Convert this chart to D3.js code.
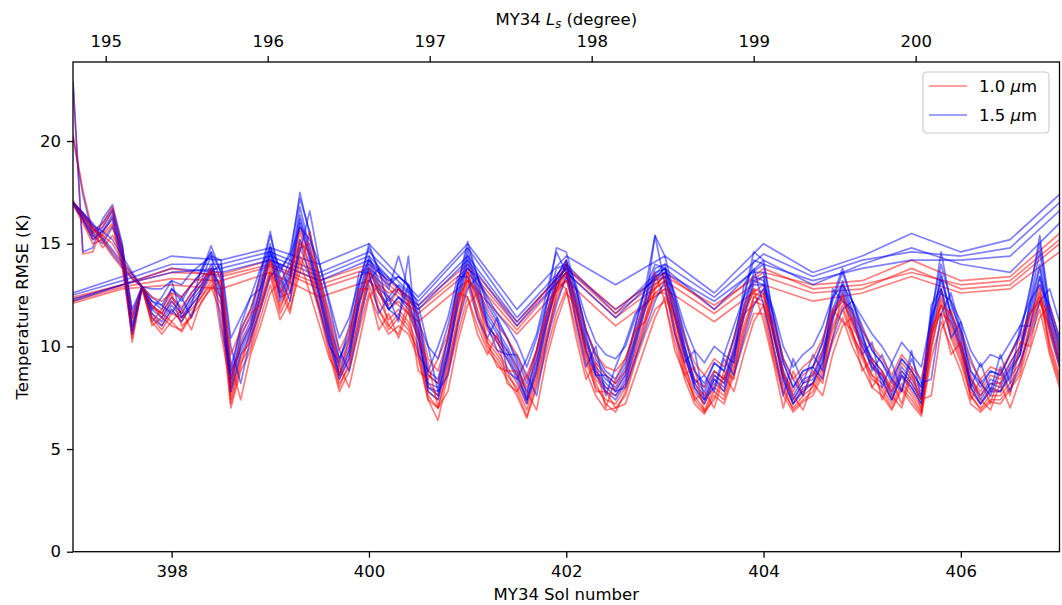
<!DOCTYPE html>
<html>
<head>
<meta charset="utf-8">
<script src="https://cdn.jsdelivr.net/npm/d3@7"></script>
<style>
  body { margin: 0; background: #fff; }
  svg { font-family: "DejaVu Sans", sans-serif; }
</style>
</head>
<body>
<div class="container"></div>
<script>
// sampling times (sol) for the detailed profiles and the coarse ones
const solFine = [
  397.0,397.1,397.2,397.3,397.4,397.5,397.6,397.7,397.8,397.9,
  398.0,398.1,398.2,398.3,398.4,398.5,398.6,398.7,398.8,398.9,
  399.0,399.1,399.2,399.3,399.4,399.5,399.6,399.7,399.8,399.9,
  400.0,400.1,400.2,400.3,400.4,400.5,400.6,400.7,400.8,400.9,
  401.0,401.1,401.2,401.3,401.4,401.5,401.6,401.7,401.8,401.9,
  402.0,402.1,402.2,402.3,402.4,402.5,402.6,402.7,402.8,402.9,
  403.0,403.1,403.2,403.3,403.4,403.5,403.6,403.7,403.8,403.9,
  404.0,404.1,404.2,404.3,404.4,404.5,404.6,404.7,404.8,404.9,
  405.0,405.1,405.2,405.3,405.4,405.5,405.6,405.7,405.8,405.9,
  406.0,406.1,406.2,406.3,406.4,406.5,406.6,406.7,406.8,406.9,
  407.0
];
const solCoarse = [397.0,397.5,398.0,398.5,399.0,399.5,400.0,400.5,401.0,401.5,402.0,
                   402.5,403.0,403.5,404.0,404.5,405.0,405.5,406.0,406.5,407.0];

// 1.0 um runs, RMSE (K)
const red1 = [
  17.0,16.2,15.3,15.5,16.3,14.2,10.8,12.9,11.6,11.0,
  11.8,11.2,12.0,12.6,13.4,12.3,7.6,9.4,10.4,12.2,
  13.8,12.0,13.0,15.2,14.0,12.2,10.2,8.4,9.4,11.6,
  13.4,12.2,11.3,11.8,11.2,10.0,7.8,7.4,9.2,11.4,
  13.2,11.8,10.4,9.8,9.0,8.2,7.2,8.6,10.6,12.4,
  13.6,11.6,9.6,8.4,7.8,7.6,8.2,9.8,11.4,12.6,
  13.0,11.0,9.0,7.8,7.2,8.2,7.8,9.2,11.0,12.4,
  12.2,10.0,8.2,7.2,7.9,8.2,9.2,11.0,12.0,10.6,
  9.6,8.6,8.2,7.4,8.5,7.8,7.0,10.0,12.0,10.6,
  9.4,7.8,7.2,7.9,7.8,8.5,9.2,11.0,12.6,10.2,
  8.6];
const red2 = [
  22.8,14.5,14.6,15.8,16.6,14.8,10.2,12.9,12.0,11.4,
  12.2,11.6,12.4,13.0,13.8,12.8,7.2,9.0,10.8,12.6,
  14.2,12.6,13.4,15.8,14.4,12.6,10.6,8.8,9.8,12.0,
  13.8,12.6,11.8,12.2,11.6,10.4,8.2,7.6,9.6,11.8,
  13.6,12.2,10.8,10.2,9.4,8.6,7.4,8.8,11.0,12.8,
  14.0,12.0,10.0,8.8,8.0,7.9,8.6,10.2,11.8,13.0,
  13.4,11.4,9.4,8.2,7.4,8.6,8.2,9.6,11.4,12.8,
  12.6,10.4,8.6,7.4,8.2,8.6,9.6,11.4,12.4,11.0,
  10.0,9.0,8.6,7.8,8.8,8.2,7.4,10.4,12.4,11.0,
  9.8,8.2,7.6,8.2,8.2,8.9,9.6,11.4,13.0,10.6,
  9.0];
const red3 = [
  16.9,16.0,15.0,15.2,15.9,13.8,10.6,12.8,11.2,10.6,
  11.2,10.7,11.5,12.1,12.9,11.6,7.0,8.8,9.8,11.4,
  13.0,11.3,12.2,14.4,13.4,11.6,9.6,7.8,8.8,10.8,
  12.6,11.4,10.6,11.0,10.6,9.4,7.4,6.4,8.6,10.6,
  12.4,11.0,9.8,9.2,8.4,7.6,6.5,8.0,9.8,11.6,
  12.8,10.8,8.8,7.6,6.9,7.0,7.6,9.2,10.6,11.8,
  12.2,10.2,8.4,7.2,6.7,7.6,7.2,8.6,10.2,11.6,
  11.6,9.4,7.6,6.8,7.3,7.6,8.6,10.2,11.4,10.0,
  9.0,8.0,7.6,6.9,7.9,7.2,6.6,9.4,11.2,10.0,
  8.8,7.2,6.8,7.3,7.2,7.9,8.6,10.4,11.8,9.6,
  8.0];
const red4 = [
  20.3,17.6,15.6,14.8,15.4,14.6,11.4,12.9,11.9,11.6,
  12.4,11.9,12.6,13.2,13.6,13.0,8.4,10.0,11.0,12.8,
  14.0,12.4,12.6,14.8,15.0,13.0,10.8,9.2,10.2,12.2,
  13.2,12.6,12.0,12.8,12.0,10.8,8.6,8.2,9.8,12.0,
  13.4,12.4,11.0,10.4,9.8,9.0,8.0,9.4,11.2,12.8,
  13.2,11.8,10.2,9.2,8.6,8.2,8.8,10.4,12.0,12.6,
  12.6,11.6,9.8,8.4,8.0,8.8,8.4,9.8,11.6,12.0,
  12.6,10.6,8.8,7.8,8.6,9.0,9.8,11.6,12.2,11.2,
  10.2,9.4,8.8,8.0,9.2,8.6,7.8,10.6,11.6,11.2,
  10.0,8.4,7.8,8.6,8.4,9.2,10.0,11.6,12.2,11.0,
  9.2];
const red5 = [
  17.1,16.4,15.5,16.0,16.8,14.6,11.2,12.9,11.4,10.8,
  11.6,11.4,11.8,12.4,13.2,12.0,7.8,9.6,10.2,12.0,
  13.6,11.8,13.2,15.6,13.8,12.0,10.0,8.2,9.0,11.4,
  13.0,11.8,10.8,11.4,10.8,9.8,7.6,7.0,9.0,11.2,
  13.0,11.4,10.0,9.4,8.6,8.0,6.9,8.4,10.4,12.2,
  13.4,11.2,9.2,8.0,7.4,7.2,8.0,9.6,11.2,12.4,
  12.8,10.6,8.6,7.6,6.9,8.0,7.6,9.0,10.8,12.2,
  12.0,9.6,7.8,7.0,7.6,8.0,9.0,10.8,11.8,10.4,
  9.4,8.4,8.0,7.2,8.2,7.6,6.8,9.8,12.2,10.4,
  9.2,7.6,7.0,7.6,7.6,8.2,9.0,10.8,12.4,10.0,
  8.4];
const red6 = [
  17.0,16.1,15.2,15.4,16.0,14.0,10.4,12.9,11.0,11.4,
  11.0,10.8,11.6,12.4,13.0,12.4,7.4,9.2,10.0,11.8,
  13.4,11.6,12.6,14.8,13.6,11.8,9.8,8.0,9.2,11.2,
  13.6,11.8,11.0,11.6,11.0,9.6,7.4,7.0,8.8,11.0,
  13.8,11.6,10.2,9.6,8.8,7.8,6.6,8.2,10.2,12.6,
  14.2,11.4,9.4,8.2,7.2,6.8,7.8,9.4,11.0,12.8,
  13.6,10.8,8.8,7.4,6.8,7.8,7.4,8.8,10.6,12.4,
  12.8,9.8,8.0,6.9,7.4,7.8,8.8,10.4,12.6,10.6,
  9.6,8.6,7.8,7.0,8.0,7.4,6.7,10.2,12.8,10.8,
  9.6,7.6,6.9,7.4,7.4,8.0,8.8,11.0,12.8,9.8,
  8.2];
const red7 = [
  17.0,16.4,15.8,15.1,14.4,13.8,13.3,12.9,11.2,11.8,
  12.6,11.0,11.4,12.8,13.8,10.6,8.0,10.4,11.6,12.0,
  13.6,12.8,11.6,14.2,12.6,11.0,9.4,8.6,10.4,12.8,
  12.8,10.8,11.6,10.4,11.8,8.8,8.4,9.4,10.6,12.6,
  12.4,10.6,9.6,10.6,8.2,7.8,8.6,9.8,11.6,13.2,
  12.8,10.4,8.4,9.2,7.0,8.4,9.4,10.8,11.2,13.6,
  12.2,9.8,8.6,9.0,6.8,7.4,8.8,8.4,12.0,12.8,
  11.2,9.2,7.0,8.8,7.6,8.8,8.2,11.8,11.2,10.8,
  8.8,9.4,7.4,8.4,7.2,9.0,6.8,11.0,11.6,9.6,
  10.2,7.4,8.4,7.2,8.8,7.6,10.2,10.0,12.2,10.8,
  9.4];
const red8 = [
  17.0,16.5,15.9,15.2,14.6,14.0,13.4,12.9,12.0,11.6,
  11.2,11.8,10.8,12.2,12.8,13.2,9.2,7.4,9.6,11.0,
  12.6,13.2,11.8,13.6,15.6,13.0,11.2,9.0,8.0,10.2,
  12.4,13.0,11.0,10.6,12.2,10.4,9.2,7.0,7.8,10.2,
  12.0,12.6,10.2,9.0,8.8,8.8,7.8,6.9,9.4,11.2,
  12.6,12.0,9.8,7.8,7.8,7.0,7.2,8.6,10.0,11.4,
  12.4,11.4,9.2,7.4,7.8,7.0,8.6,7.8,9.6,11.2,
  12.0,10.8,8.6,7.6,6.9,8.2,7.6,9.6,11.0,11.4,
  9.8,8.0,8.8,7.6,7.0,8.6,7.4,7.6,10.8,11.8,
  10.0,8.6,7.4,6.9,8.2,7.0,8.4,9.8,11.4,12.0,
  10.4];
const red9 = [
  17.0,16.4,15.7,15.4,15.0,14.2,13.5,12.9,12.4,12.2,
  12.6,12.4,13.0,13.4,13.6,13.6,9.6,10.8,11.8,13.2,
  14.2,13.2,13.8,15.0,14.6,13.4,11.6,9.8,10.8,12.6,
  13.6,13.0,12.6,12.8,12.4,11.4,9.4,8.8,10.4,12.4,
  13.2,12.8,11.8,11.0,10.4,9.6,8.4,9.8,11.6,12.8,
  13.6,12.4,10.8,9.6,9.0,8.8,9.4,10.8,12.2,12.8,
  13.2,12.0,10.4,9.2,8.6,9.4,9.0,10.4,11.8,12.6,
  12.4,11.2,9.4,8.4,9.0,9.4,10.4,11.8,12.4,11.6,
  10.8,10.0,9.4,8.6,9.6,9.0,8.4,10.8,12.0,11.6,
  10.6,9.2,8.4,9.0,8.8,9.6,10.4,11.6,12.4,11.4,
  9.8];

// 1.5 um runs, RMSE (K)
const blue1 = [
  17.0,16.3,15.5,15.8,16.6,14.6,11.4,12.9,12.0,11.6,
  12.4,11.8,12.6,13.2,14.4,13.2,8.4,10.2,11.2,13.0,
  15.0,12.8,13.8,16.8,14.8,12.8,10.8,9.0,10.0,12.6,
  14.4,13.2,12.4,13.0,12.6,11.0,8.2,8.0,10.0,12.6,
  14.6,13.0,11.6,10.8,10.0,9.0,7.8,9.4,11.6,13.4,
  14.2,12.4,10.4,9.0,8.4,8.0,8.8,10.6,12.4,13.8,
  14.0,12.0,10.0,8.4,7.8,8.8,8.4,10.0,12.0,13.6,
  13.6,11.0,8.8,7.6,8.4,8.6,9.8,11.8,13.0,11.6,
  10.4,9.4,8.8,7.8,9.0,8.4,7.6,11.0,13.2,11.6,
  10.2,8.4,7.6,8.4,8.2,9.2,10.0,12.0,14.0,11.2,
  9.4];
const blue2 = [
  22.9,14.6,14.8,16.2,16.9,15.0,10.8,12.9,12.2,11.8,
  12.8,12.2,13.0,13.6,14.9,13.6,8.2,10.6,11.4,13.6,
  15.6,13.0,14.2,17.5,15.4,13.2,11.0,9.4,10.4,13.0,
  15.0,13.6,12.8,14.4,12.8,11.4,8.6,8.2,10.4,13.0,
  15.1,13.4,12.0,11.2,10.4,9.2,7.6,9.8,12.0,14.8,
  14.6,12.8,10.8,9.4,8.6,8.2,9.0,11.0,12.8,15.4,
  14.4,12.4,10.4,8.8,8.0,9.2,8.8,10.4,12.4,14.6,
  14.2,11.4,9.2,8.0,8.8,9.0,10.2,12.2,13.6,12.2,
  10.8,9.8,9.2,8.2,9.4,8.8,8.0,11.4,14.6,12.0,
  10.8,8.8,8.0,8.8,8.6,9.6,10.6,12.6,15.4,11.8,
  9.8];
const blue3 = [
  20.2,17.4,15.4,15.0,15.8,14.8,11.6,12.9,11.6,11.2,
  12.0,11.4,12.2,12.8,13.8,12.6,8.8,9.8,10.8,12.4,
  14.4,12.2,13.2,16.0,14.2,12.4,10.4,8.6,9.6,12.0,
  13.8,12.6,11.8,12.4,12.0,10.6,8.0,7.8,9.6,12.0,
  14.0,12.4,11.0,10.4,9.6,8.6,7.4,9.0,11.2,13.0,
  13.6,11.8,9.8,8.6,8.0,7.6,8.4,10.2,12.0,13.2,
  13.4,11.4,9.6,8.0,7.4,8.4,8.0,9.6,11.6,13.0,
  13.0,10.6,8.4,7.2,8.0,8.2,9.4,11.4,12.6,11.2,
  10.0,9.0,8.4,7.4,8.6,8.0,7.2,10.6,12.8,11.2,
  9.8,8.0,7.2,8.0,7.8,8.8,9.6,11.6,13.4,10.8,
  9.0];
const blue4 = [
  17.0,16.4,15.6,16.0,16.7,14.8,11.8,12.9,12.2,12.0,
  12.8,12.4,13.0,13.6,14.6,13.6,9.0,10.8,11.8,13.4,
  15.4,13.6,14.6,17.2,15.6,13.4,11.4,9.4,10.6,13.0,
  14.8,13.8,13.0,13.4,13.0,11.6,8.8,8.4,10.4,13.0,
  14.8,13.4,12.2,11.4,10.4,9.4,8.2,9.8,12.0,13.8,
  14.0,12.8,10.8,9.6,8.8,8.4,9.2,11.0,12.8,14.0,
  13.8,12.4,10.6,8.8,8.2,9.2,8.8,10.4,12.4,14.2,
  14.0,11.4,9.2,8.0,8.8,9.0,10.2,12.4,13.8,12.2,
  11.0,9.8,9.2,8.4,9.4,8.8,8.0,11.6,14.0,12.2,
  10.6,8.8,8.2,8.8,8.6,9.6,10.6,12.8,15.0,11.8,
  10.0];
const blue5 = [
  16.9,16.2,15.4,15.6,16.4,14.4,11.0,12.9,11.8,11.4,
  12.2,11.6,12.4,13.0,14.0,12.8,8.0,10.0,11.0,12.8,
  14.8,12.6,13.6,16.4,14.6,12.6,10.6,8.6,9.8,12.4,
  14.2,13.0,12.2,12.8,12.2,10.8,8.0,7.6,9.8,12.4,
  14.4,12.8,11.4,10.6,9.8,8.8,7.4,9.2,11.4,13.2,
  13.8,12.2,10.2,8.8,8.2,7.8,8.6,10.4,12.2,13.6,
  13.8,11.8,9.8,8.2,7.6,8.6,8.2,9.8,11.8,13.4,
  13.2,10.8,8.6,7.4,8.2,8.4,9.6,11.6,12.8,11.4,
  10.2,9.2,8.6,7.6,8.8,8.2,7.4,10.8,13.6,11.4,
  10.0,8.2,7.4,8.2,8.0,9.0,9.8,11.8,13.8,11.0,
  9.2];
const blue6 = [
  17.0,16.2,15.2,15.6,16.2,14.2,10.6,12.9,11.4,11.0,
  11.8,11.2,12.0,12.6,13.6,12.4,7.8,9.6,10.6,12.4,
  14.6,12.4,13.4,16.2,14.4,12.4,10.2,8.4,9.4,12.2,
  14.0,12.8,11.8,12.4,11.8,10.4,7.8,7.4,9.4,12.2,
  14.2,12.6,11.2,10.2,9.4,8.4,7.2,8.8,11.0,13.0,
  14.0,12.0,9.8,8.6,7.8,7.4,8.2,10.0,11.8,13.4,
  13.6,11.6,9.6,8.0,7.2,8.4,7.8,9.4,11.4,13.2,
  13.4,10.6,8.4,7.2,7.8,8.2,9.2,11.2,13.2,11.8,
  10.6,9.2,8.4,7.4,8.6,8.0,7.2,11.2,13.4,11.6,
  10.4,8.0,7.2,7.8,7.8,8.6,9.6,12.2,14.6,11.4,
  9.6];
const blue7 = [
  17.0,16.4,15.8,15.2,14.5,13.9,13.3,12.9,11.8,12.4,
  13.2,11.4,12.0,13.8,14.6,11.0,8.6,11.0,12.4,12.8,
  14.6,13.4,12.2,15.2,13.4,11.8,10.0,9.2,11.0,13.6,
  13.6,11.6,12.4,11.2,14.4,9.6,8.8,10.0,11.4,13.4,
  13.4,11.4,10.4,11.4,8.8,8.4,9.4,10.6,12.6,14.6,
  13.6,11.2,9.0,10.0,7.6,9.0,10.2,11.6,12.0,15.4,
  13.0,10.6,9.2,9.8,7.4,8.0,9.6,9.2,13.0,13.8,
  12.0,10.0,7.6,9.4,8.2,9.6,8.8,12.8,12.2,11.8,
  9.6,10.2,8.0,9.2,7.8,9.8,7.4,12.0,12.8,10.4,
  11.2,8.0,9.2,7.8,9.6,8.2,11.0,11.0,13.4,11.6,
  10.2];
const blue8 = [
  17.0,16.5,16.0,15.3,14.7,14.1,13.5,12.9,12.4,12.0,
  11.6,12.4,11.4,12.8,13.6,14.0,10.0,8.2,10.4,11.8,
  13.4,14.0,12.6,14.6,16.6,14.0,12.0,9.8,8.8,11.0,
  13.2,13.8,11.8,11.4,13.0,11.2,10.0,7.8,8.6,11.0,
  12.8,13.4,11.0,9.8,9.6,9.6,8.6,7.6,10.2,12.0,
  13.4,12.8,10.6,8.6,8.6,7.8,8.0,9.4,10.8,12.2,
  13.2,12.2,10.0,8.2,8.6,7.8,9.4,8.6,10.4,12.0,
  12.8,11.6,9.4,8.4,7.6,9.0,8.4,10.4,11.8,12.2,
  10.6,8.8,9.6,8.4,7.8,9.4,8.2,8.4,11.6,12.6,
  10.8,9.4,8.2,7.6,9.0,7.8,9.2,10.6,12.2,12.8,
  11.2];
const blue9 = [
  17.0,16.5,15.9,15.6,15.2,14.4,13.6,12.9,12.8,12.8,
  13.2,13.0,13.6,14.0,14.4,14.2,10.4,11.4,12.4,13.8,
  14.8,13.8,14.4,15.8,15.2,14.0,12.2,10.4,11.4,13.2,
  14.2,13.6,13.2,13.4,13.0,12.0,10.0,9.4,11.0,13.0,
  13.8,13.4,12.4,11.6,11.0,10.2,9.0,10.4,12.2,13.4,
  14.2,13.0,11.4,10.2,9.6,9.4,10.0,11.4,12.8,13.4,
  13.8,12.6,11.0,9.8,9.2,10.0,9.6,11.0,12.4,13.2,
  13.0,11.8,10.0,9.0,9.6,10.0,11.0,12.4,13.0,12.2,
  11.4,10.6,10.0,9.2,10.2,9.6,9.0,11.4,12.6,12.2,
  11.2,9.8,9.0,9.6,9.4,10.2,11.0,12.2,13.0,12.0,
  10.4];

// coarse (half-sol) runs
const redCoarse1 = [12.2,12.9,13.3,13.2,13.9,12.8,13.6,11.6,13.6,10.8,13.6,11.4,13.2,11.6,13.4,12.6,12.8,13.8,12.8,13.0,15.0];
const redCoarse2 = [12.4,13.0,13.6,13.5,14.2,13.2,14.0,12.0,14.0,11.2,13.8,11.6,13.4,12.0,13.6,13.0,13.2,14.2,13.2,13.4,15.5];
const redCoarse3 = [12.1,12.8,13.0,12.8,13.6,12.4,13.2,11.2,13.2,10.6,13.2,11.0,12.8,11.2,13.0,12.2,12.6,13.4,12.6,12.8,14.6];
const redCoarse4 = [12.3,13.0,13.8,13.4,14.0,13.0,13.8,11.8,13.8,11.0,13.9,11.8,13.6,11.8,13.8,12.8,13.0,13.6,13.0,13.2,15.2];
const blueCoarse1 = [12.5,13.2,14.0,14.0,14.6,13.6,14.6,12.2,14.8,11.4,14.0,11.6,14.0,12.4,14.5,13.4,14.2,14.6,14.4,14.8,17.0];
const blueCoarse2 = [12.2,13.0,13.8,13.6,14.2,13.2,14.2,12.0,14.4,11.2,13.8,11.8,13.6,12.2,14.0,13.2,13.8,14.2,14.2,14.4,16.6];
const blueCoarse3 = [12.6,13.4,14.4,14.2,14.8,14.0,15.0,12.4,15.0,11.8,14.4,13.0,14.4,12.6,15.0,13.6,14.4,15.5,14.6,15.2,17.4];
const blueCoarse4 = [12.3,13.0,13.6,13.8,14.4,13.4,14.4,11.8,14.2,11.0,13.6,11.4,13.8,11.8,14.2,13.0,14.0,14.8,14.0,13.6,16.0];

const yTicks = [0, 5, 10, 15, 20];
const solTicks = [398, 400, 402, 404, 406];
const lsTicks = [195, 196, 197, 198, 199, 200];
const legendLabels = ["1.0 ", "1.5 "];

// figure layout
const width = 1062, height = 605;
const margin = {top: 62, right: 2.5, bottom: 53.3, left: 73};
const w = width - margin.left - margin.right;
const h = height - margin.top - margin.bottom;

const x = d3.scaleLinear().domain([397, 407]).range([0, w]);
const y = d3.scaleLinear().domain([0, 23.85]).range([h, 0]);
// Ls at the two ends of the sol range
const xLs = d3.scaleLinear().domain([194.798, 200.888]).range([0, w]);

const svg = d3.select(".container").append("svg")
    .attr("width", width)
    .attr("height", height);

const g = svg.append("g")
    .attr("transform", `translate(${margin.left},${margin.top})`);

g.append("defs").append("clipPath").attr("id", "clip")
  .append("rect").attr("width", w).attr("height", h);

const line = d3.line().x(d => x(d[0])).y(d => y(d[1]));

const redFine = [red1, red2, red3, red4, red5, red6, red7, red8, red9];
const blueFine = [blue1, blue2, blue3, blue4, blue5, blue6, blue7, blue8, blue9];
const redCoarse = [redCoarse1, redCoarse2, redCoarse3, redCoarse4];
const blueCoarse = [blueCoarse1, blueCoarse2, blueCoarse3, blueCoarse4];

// red and blue interleaved, as drawn one run after the other
const series = [];
redCoarse.forEach((r, i) => {
  series.push({c: "#ff0000", pts: solCoarse.map((s, k) => [s, r[k]])});
  series.push({c: "#0000ff", pts: solCoarse.map((s, k) => [s, blueCoarse[i][k]])});
});
redFine.forEach((r, i) => {
  series.push({c: "#ff0000", pts: solFine.map((s, k) => [s, r[k]])});
  series.push({c: "#0000ff", pts: solFine.map((s, k) => [s, blueFine[i][k]])});
});

g.append("g").attr("clip-path", "url(#clip)")
  .selectAll("path")
  .data(series)
  .enter().append("path")
  .attr("d", d => line(d.pts))
  .attr("fill", "none")
  .attr("stroke", d => d.c)
  .attr("stroke-opacity", 0.5)
  .attr("stroke-width", 1.7)
  .attr("stroke-linejoin", "round");

// axes
const fs = "16.5px";
const bottomAxis = g.append("g")
    .attr("transform", `translate(0,${h})`)
    .call(d3.axisBottom(x).tickValues(solTicks).tickSize(6).tickSizeOuter(0).tickPadding(7.5));
const leftAxis = g.append("g")
    .call(d3.axisLeft(y).tickValues(yTicks).tickSize(6).tickSizeOuter(0).tickPadding(6));
const topAxis = g.append("g")
    .call(d3.axisTop(xLs).tickValues(lsTicks).tickFormat(d3.format("d"))
      .tickSize(6).tickSizeOuter(0).tickPadding(9));

[bottomAxis, leftAxis, topAxis].forEach(a => {
  a.select(".domain").remove();
  a.selectAll(".tick line").attr("stroke", "#000").attr("stroke-width", 1.3);
  a.selectAll("text").attr("font-size", fs).attr("fill", "#000")
    .attr("font-family", "DejaVu Sans");
});

// spines
g.append("rect")
  .attr("width", w).attr("height", h)
  .attr("fill", "none").attr("stroke", "#000").attr("stroke-width", 1.3);

// labels
svg.append("text")
  .attr("x", margin.left + w / 2).attr("y", 600)
  .attr("text-anchor", "middle").attr("font-size", fs)
  .text("MY34 Sol number");

const topLabel = svg.append("text")
  .attr("x", margin.left + w / 2).attr("y", 25)
  .attr("text-anchor", "middle").attr("font-size", fs);
topLabel.append("tspan").text("MY34 ");
topLabel.append("tspan").attr("font-style", "italic").text("L");
topLabel.append("tspan").attr("font-style", "italic").attr("font-size", "11.5px").attr("dy", 3).text("s");
topLabel.append("tspan").attr("dy", -3).text(" (degree)");

svg.append("text")
  .attr("transform", `translate(28,${margin.top + h / 2}) rotate(-90)`)
  .attr("text-anchor", "middle").attr("font-size", fs)
  .text("Temperature RMSE (K)");

// legend
const legend = svg.append("g").attr("transform", "translate(923,72)");
legend.append("rect")
  .attr("width", 126).attr("height", 61).attr("rx", 4)
  .attr("fill", "#fff").attr("fill-opacity", 0.8)
  .attr("stroke", "#cccccc").attr("stroke-width", 1.2);
const legendColors = ["#ff0000", "#0000ff"];
legendLabels.forEach((lab, i) => {
  const yy = 14 + i * 29;
  legend.append("line")
    .attr("x1", 6).attr("x2", 44).attr("y1", yy).attr("y2", yy)
    .attr("stroke", legendColors[i]).attr("stroke-opacity", 0.5).attr("stroke-width", 1.7);
  const t = legend.append("text")
    .attr("x", 56).attr("y", yy + 6).attr("font-size", fs);
  t.append("tspan").text(lab);
  t.append("tspan").attr("font-style", "italic").text("\u03bc");
  t.append("tspan").text("m");
});
</script>
</body>
</html>
